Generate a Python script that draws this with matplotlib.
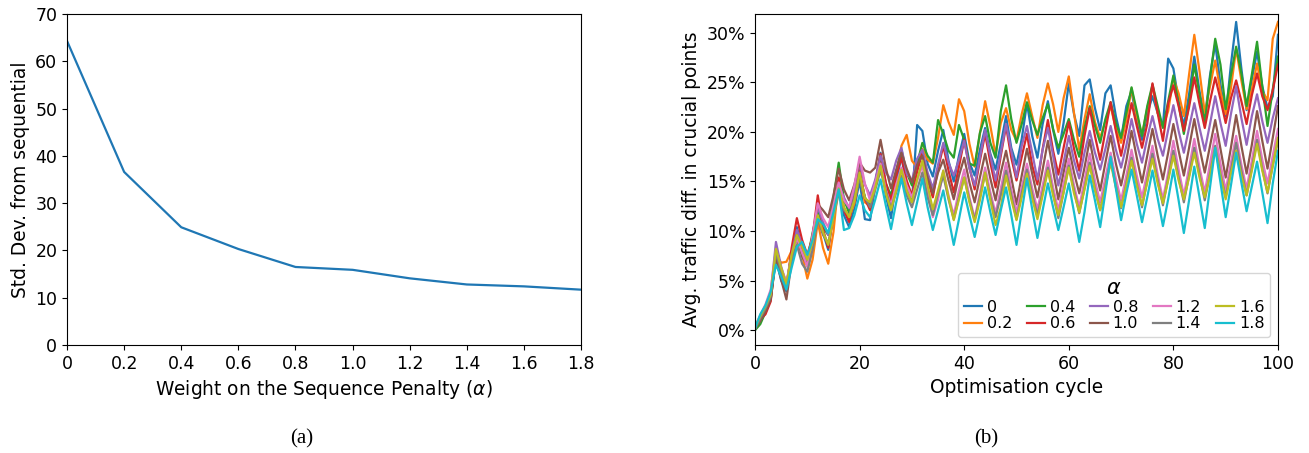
import matplotlib
matplotlib.use("Agg")
import matplotlib.pyplot as plt
from matplotlib.ticker import FuncFormatter

# ---------------- data (a) ----------------
alphas = [0, 0.2, 0.4, 0.6, 0.8, 1.0, 1.2, 1.4, 1.6, 1.8]
alpha_labels = ["0", "0.2", "0.4", "0.6", "0.8", "1.0", "1.2", "1.4", "1.6", "1.8"]
std_dev = [64.3, 36.6, 24.9, 20.3, 16.5, 15.9, 14.1, 12.8, 12.4, 11.7]

# ---------------- data (b) ----------------
cycles = list(range(101))

a00 = [0.0, 1.2, 1.9, 3.6, 7.2, 5.0, 3.9, 7.5, 10.4, 8.3, 6.4, 9.6, 12.1, 9.8, 8.1, 11.9,
       14.8, 11.6, 10.4, 12.3, 15.1, 11.2, 11.1, 14.6, 17.9, 13.6, 11.3, 14.9, 17.6, 14.2, 12.9, 20.7,
       20.1, 16.8, 15.5, 18.1, 20.2, 17.1, 15.0, 17.6, 19.8, 16.9, 15.6, 18.2, 20.4, 17.8, 16.2, 18.8,
       21.6, 18.4, 16.7, 19.3, 22.9, 19.6, 17.4, 20.8, 23.1, 20.2, 17.8, 20.9, 24.9, 21.8, 19.6, 24.7,
       25.3, 22.4, 20.2, 23.9, 24.7, 21.6, 19.3, 22.6, 24.1, 21.2, 19.2, 21.8, 23.6, 21.9, 20.6, 27.4,
       26.4, 23.1, 20.6, 23.8, 27.6, 24.1, 21.3, 25.7, 28.9, 24.8, 21.6, 26.8, 31.1, 26.4, 22.2, 25.3,
       28.1, 24.6, 22.4, 23.6, 29.8]
a02 = [0.2, 1.0, 2.1, 3.3, 7.6, 6.8, 6.9, 8.0, 9.1, 7.6, 5.2, 7.1, 10.9, 8.3, 6.7, 9.9,
       15.2, 12.4, 11.3, 12.8, 15.6, 12.9, 12.5, 14.7, 16.9, 14.1, 12.8, 15.8, 18.6, 19.7, 17.1, 16.4,
       18.3, 17.2, 16.8, 19.4, 22.7, 21.0, 19.7, 23.3, 22.1, 18.8, 16.5, 19.8, 23.1, 20.6, 17.7, 20.9,
       22.4, 20.2, 19.1, 21.8, 23.9, 21.6, 19.4, 22.7, 24.9, 22.8, 20.0, 23.4, 25.6, 21.9, 18.2, 21.3,
       23.8, 21.0, 19.4, 21.1, 22.6, 20.3, 18.9, 21.2, 24.4, 21.6, 19.7, 22.4, 24.6, 21.9, 20.5, 22.1,
       25.4, 23.9, 21.6, 25.8, 29.8, 26.1, 21.9, 24.6, 27.2, 24.1, 21.8, 24.4, 28.4, 25.2, 22.3, 24.3,
       26.9, 24.1, 23.2, 29.4, 31.1]
a04 = [0.0, 0.6, 1.8, 3.1, 7.4, 5.3, 4.4, 7.8, 9.2, 7.9, 7.1, 9.8, 12.2, 10.4, 9.6, 13.4,
       16.9, 13.2, 11.8, 13.9, 15.8, 13.4, 12.6, 14.8, 17.6, 14.8, 13.6, 15.9, 18.2, 15.9, 14.6, 16.8,
       18.9, 17.6, 16.9, 21.2, 19.8, 18.1, 17.4, 20.7, 19.2, 16.8, 16.6, 19.9, 21.6, 18.9, 17.4, 22.1,
       24.7, 21.3, 18.9, 20.8, 23.0, 21.2, 19.7, 21.4, 22.8, 20.3, 18.4, 19.8, 21.3, 19.2, 17.5, 20.4,
       22.6, 20.6, 18.9, 21.3, 23.0, 20.9, 19.4, 21.9, 24.5, 22.1, 19.6, 22.6, 24.8, 22.6, 20.4, 23.1,
       25.7, 22.8, 19.8, 22.9, 26.8, 23.7, 20.9, 25.4, 29.4, 26.8, 22.3, 25.7, 28.6, 25.9, 22.6, 25.8,
       29.1, 24.6, 20.6, 24.3, 27.6]
a06 = [0.3, 1.1, 1.6, 2.9, 7.9, 6.1, 4.2, 8.3, 11.3, 9.1, 7.6, 9.4, 13.6, 10.2, 8.3, 11.6,
       15.4, 12.1, 10.9, 13.6, 16.2, 13.3, 12.1, 14.9, 17.8, 14.9, 13.1, 15.6, 17.4, 15.1, 13.6, 16.0,
       17.9, 15.2, 13.4, 16.3, 18.6, 16.1, 13.9, 16.5, 19.2, 16.4, 14.2, 17.1, 19.8, 16.9, 14.4, 17.6,
       20.6, 17.4, 15.1, 17.5, 19.8, 16.6, 14.7, 18.3, 21.2, 18.1, 15.7, 18.4, 21.0, 18.3, 16.1, 19.6,
       22.4, 19.6, 17.2, 20.1, 23.0, 20.1, 17.6, 20.2, 22.9, 20.6, 18.4, 20.8, 24.9, 21.9, 19.1, 22.9,
       24.7, 22.6, 20.1, 22.5, 25.5, 22.8, 20.4, 23.1, 25.5, 23.3, 20.9, 23.4, 25.2, 23.1, 20.8, 23.7,
       25.9, 23.6, 22.2, 24.2, 26.8]
a08 = [0.1, 1.3, 2.3, 3.8, 8.9, 6.4, 4.7, 7.6, 10.1, 8.6, 6.6, 9.1, 12.4, 10.9, 9.6, 11.9,
       14.6, 13.4, 12.3, 14.1, 16.8, 14.7, 13.6, 15.2, 17.6, 15.9, 15.2, 17.1, 18.4, 15.8, 15.1, 17.3,
       18.2, 15.9, 14.3, 16.7, 18.9, 16.9, 15.6, 17.2, 19.1, 16.3, 14.6, 17.4, 20.2, 17.6, 15.1, 17.9,
       20.8, 18.1, 15.4, 18.6, 20.6, 17.9, 15.2, 18.2, 20.4, 17.6, 14.6, 16.9, 19.6, 17.1, 15.3, 17.9,
       20.1, 17.9, 16.2, 18.3, 20.6, 18.2, 16.4, 18.6, 21.3, 18.8, 16.9, 19.4, 21.6, 19.3, 17.6, 20.2,
       22.7, 20.1, 17.9, 20.4, 22.9, 20.4, 18.1, 20.8, 23.6, 20.9, 18.6, 21.8, 24.6, 21.4, 18.7, 21.6,
       23.8, 21.1, 18.9, 21.4, 23.4]
a10 = [0.2, 0.9, 1.9, 3.1, 7.3, 5.1, 3.1, 6.9, 9.6, 7.4, 6.6, 9.4, 12.7, 12.1, 11.4, 13.6,
       16.3, 14.2, 13.1, 14.7, 16.9, 16.1, 15.9, 16.4, 19.2, 16.4, 14.3, 16.2, 17.9, 16.3, 14.9, 16.7,
       17.6, 15.4, 13.8, 15.9, 17.2, 15.1, 13.2, 15.6, 17.4, 14.9, 12.9, 15.4, 17.8, 15.3, 13.1, 15.9,
       18.1, 15.4, 12.7, 15.6, 18.3, 15.8, 13.4, 16.2, 19.1, 16.1, 13.2, 15.9, 18.4, 15.9, 13.8, 16.4,
       19.2, 16.4, 14.1, 16.9, 19.6, 16.8, 14.6, 17.1, 20.1, 17.4, 14.9, 17.6, 20.3, 17.6, 15.2, 17.9,
       20.8, 18.1, 15.6, 18.4, 21.3, 18.4, 15.9, 18.6, 21.2, 18.3, 15.4, 18.4, 21.7, 18.6, 15.8, 18.7,
       22.1, 19.1, 16.3, 19.4, 22.6]
a12 = [0.4, 1.5, 2.6, 4.1, 8.1, 6.2, 4.9, 7.4, 9.3, 7.8, 6.4, 9.6, 12.8, 11.3, 10.4, 12.6,
       14.9, 13.1, 12.4, 14.6, 17.5, 14.8, 13.1, 14.9, 16.8, 14.2, 12.6, 14.7, 16.4, 14.6, 13.4, 15.1,
       16.6, 13.9, 11.4, 13.2, 16.1, 13.6, 11.6, 14.1, 16.2, 13.4, 11.3, 13.8, 16.4, 13.9, 11.8, 14.3,
       16.9, 14.2, 11.9, 14.4, 16.8, 14.3, 12.2, 14.6, 17.1, 14.4, 12.1, 14.8, 17.3, 14.6, 12.4, 15.1,
       17.8, 15.1, 12.9, 15.4, 17.9, 15.3, 13.1, 15.6, 18.2, 15.6, 13.4, 15.9, 18.6, 15.7, 13.2, 15.9,
       19.1, 16.2, 13.6, 16.4, 19.3, 16.4, 13.9, 16.8, 19.8, 16.8, 14.1, 16.9, 19.6, 16.7, 14.3, 17.1,
       20.1, 17.2, 14.8, 17.6, 20.3]
a14 = [0.1, 1.2, 2.2, 3.4, 7.8, 5.9, 4.4, 7.2, 8.6, 6.7, 5.9, 8.1, 11.2, 9.6, 8.8, 11.4,
       13.8, 12.1, 11.6, 13.3, 15.4, 13.4, 12.4, 14.2, 16.1, 14.1, 12.3, 13.9, 15.6, 13.6, 12.4, 14.2,
       15.9, 13.4, 11.6, 13.8, 15.6, 13.2, 11.2, 13.4, 15.4, 13.1, 11.1, 13.4, 15.8, 13.4, 11.4, 13.6,
       16.1, 13.6, 11.2, 13.8, 16.2, 13.7, 11.6, 13.9, 16.4, 13.8, 11.3, 13.9, 16.6, 14.1, 11.8, 14.3,
       16.9, 14.3, 12.1, 14.6, 17.2, 14.6, 12.3, 14.8, 17.4, 14.8, 12.4, 15.1, 17.8, 15.1, 12.6, 15.3,
       18.1, 15.4, 12.9, 15.6, 18.4, 15.7, 13.1, 15.8, 18.6, 15.8, 13.4, 16.1, 18.9, 16.1, 13.6, 16.3,
       19.2, 16.3, 13.8, 16.6, 19.1]
a16 = [0.3, 1.4, 2.4, 3.6, 8.2, 6.3, 4.6, 7.6, 9.6, 8.4, 7.1, 8.9, 11.6, 9.9, 8.6, 11.4,
       14.3, 12.4, 11.4, 13.1, 15.9, 13.3, 12.9, 14.4, 16.6, 13.8, 12.1, 14.1, 16.2, 14.1, 12.9, 15.2,
       17.1, 14.6, 12.2, 14.1, 16.1, 13.4, 11.1, 13.2, 15.4, 12.9, 10.9, 13.1, 15.9, 13.1, 10.6, 12.4,
       15.6, 13.2, 11.1, 13.4, 15.8, 13.3, 11.2, 13.6, 16.1, 13.6, 11.6, 13.9, 16.4, 13.8, 11.9, 14.2,
       16.6, 14.1, 12.1, 14.4, 16.9, 14.4, 12.4, 14.6, 17.1, 14.6, 12.6, 14.9, 17.3, 14.8, 12.8, 15.1,
       17.6, 15.1, 13.2, 15.4, 17.9, 15.4, 13.4, 15.6, 18.4, 15.6, 13.2, 15.8, 18.1, 15.6, 13.6, 16.1,
       18.8, 16.1, 13.9, 16.6, 19.4]
a18 = [0.2, 1.6, 2.5, 3.9, 6.6, 5.4, 4.1, 6.3, 8.4, 8.9, 7.6, 9.1, 11.2, 10.7, 9.8, 11.9,
       14.2, 10.1, 10.3, 11.6, 13.6, 12.1, 11.4, 13.2, 15.2, 12.6, 10.2, 12.9, 15.3, 12.8, 10.6, 12.9,
       15.3, 12.4, 10.1, 12.1, 14.1, 11.3, 8.6, 11.2, 13.9, 11.6, 9.4, 11.8, 14.4, 11.9, 9.6, 12.1,
       14.4, 11.6, 8.6, 12.0, 15.3, 12.2, 9.3, 12.1, 14.8, 12.4, 10.1, 12.4, 14.8, 11.9, 8.9, 11.9,
       15.6, 13.1, 10.4, 13.9, 17.5, 14.3, 11.1, 13.8, 16.2, 13.6, 10.9, 13.4, 16.1, 13.3, 10.5, 13.2,
       16.2, 13.1, 9.8, 13.1, 16.5, 13.4, 10.3, 14.4, 18.4, 14.9, 11.4, 14.6, 17.9, 14.9, 12.0, 14.5,
       17.0, 13.9, 10.8, 14.8, 18.1]

series = [a00, a02, a04, a06, a08, a10, a12, a14, a16, a18]

# ---------------- figure ----------------
fig = plt.figure(figsize=(13.09, 4.53), dpi=100)
axA = fig.add_axes([0.0512, 0.2384, 0.3927, 0.7307])
axB = fig.add_axes([0.5768, 0.2384, 0.3995, 0.7307])

# (a)
axA.plot(alphas, std_dev, color="tab:blue", lw=1.6)
axA.set_xlim(0, 1.8)
axA.set_ylim(0, 70)
axA.set_xticks(alphas)
axA.set_xticklabels(alpha_labels)
axA.set_xlabel(r"Weight on the Sequence Penalty ($\alpha$)", fontsize=13.4)
axA.set_ylabel("Std. Dev. from sequential", fontsize=13.4)
axA.tick_params(labelsize=12.5)

# (b)
for lab, ys in zip(alpha_labels, series):
    axB.plot(cycles, ys, lw=1.6, label=lab)
axB.set_xlim(0, 100)
axB.set_ylim(-1.5, 31.9)
axB.set_yticks([0, 5, 10, 15, 20, 25, 30])
axB.yaxis.set_major_formatter(FuncFormatter(lambda v, p: "%d%%" % v))
axB.set_xlabel("Optimisation cycle", fontsize=13.4)
axB.set_ylabel("Avg. traffic diff. in crucial points", fontsize=13.4)
axB.tick_params(labelsize=12.5)
leg = axB.legend(title=r"$\alpha$", ncol=5, loc="lower right", fontsize=11.5,
                 title_fontsize=15, handlelength=1.15, handletextpad=0.3,
                 columnspacing=0.9, labelspacing=0.1, borderpad=0.35)

fig.text(0.2305, 0.031, "(a)", ha="center", va="center", fontsize=15, family="Liberation Serif")
fig.text(0.7535, 0.031, "(b)", ha="center", va="center", fontsize=15, family="Liberation Serif")

fig.savefig("out.png", dpi=100)
